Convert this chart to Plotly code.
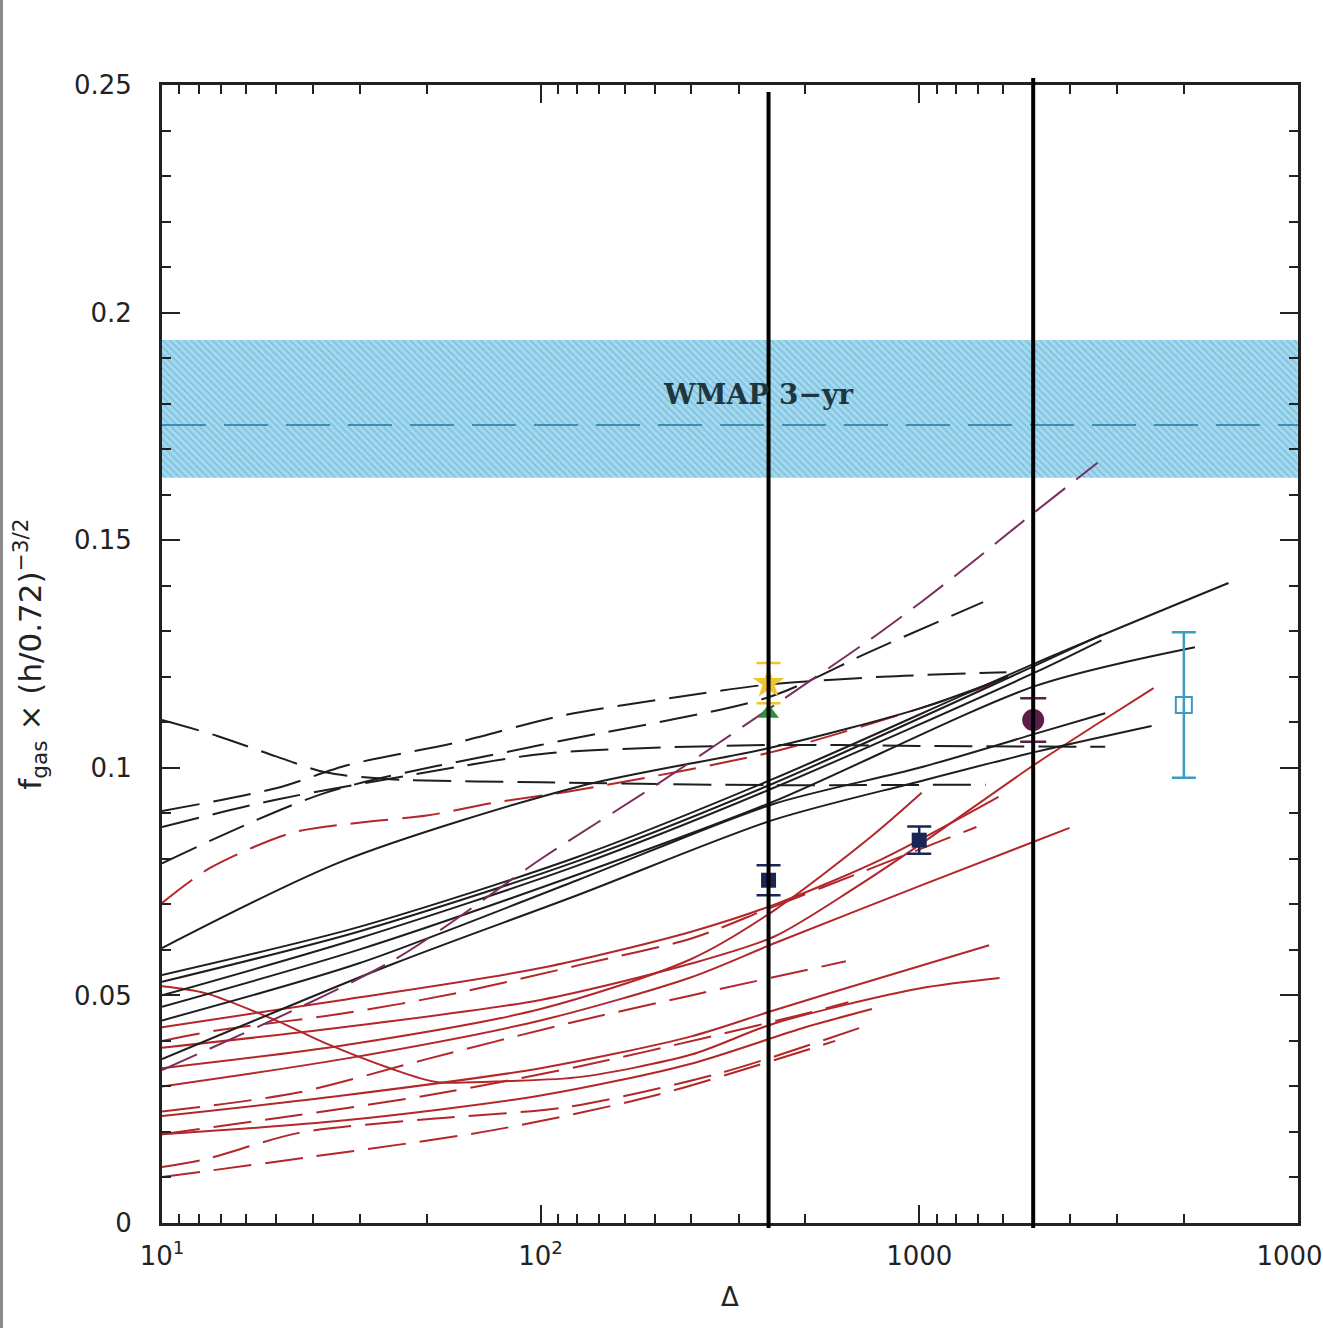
import plotly.graph_objects as go

# ---- WMAP 3-yr cosmic baryon fraction band ----
wmap_delta = [10, 10000]
wmap_low = 0.1637
wmap_mid = 0.1753
wmap_high = 0.194

# ---- black solid model curves ----
bs1_delta = [10, 30, 125, 410, 1000, 1718]
bs1_f = [0.0604, 0.0795, 0.0958, 0.1045, 0.113, 0.120]
bs2_delta = [10, 33, 125, 410, 2030, 6560]
bs2_f = [0.0545, 0.065, 0.0804, 0.0975, 0.123, 0.1406]
bs3_delta = [10, 33, 125, 410, 2030, 3030]
bs3_f = [0.053, 0.064, 0.0795, 0.0965, 0.1225, 0.1292]
bs4_delta = [10, 33, 125, 410, 2030, 3030]
bs4_f = [0.050, 0.0625, 0.0785, 0.0955, 0.121, 0.128]
bs5_delta = [10, 33, 125, 410, 2030, 5350]
bs5_f = [0.0475, 0.060, 0.0765, 0.0925, 0.118, 0.1265]
bs6_delta = [10, 33, 125, 410, 1000, 2030, 3100]
bs6_f = [0.0445, 0.057, 0.0753, 0.092, 0.100, 0.1075, 0.112]
bs7_delta = [10, 41, 125, 410, 1000, 2030, 4110]
bs7_f = [0.036, 0.057, 0.072, 0.0885, 0.097, 0.1035, 0.1092]

# ---- black dashed model curves ----
bd1_delta = [10, 14, 20, 27, 40, 100, 400, 1500]
bd1_f = [0.1105, 0.107, 0.1025, 0.099, 0.0975, 0.0968, 0.0962, 0.0963]
bd2_delta = [10, 20, 31, 61, 113, 250, 400, 800, 1700]
bd2_f = [0.0905, 0.0955, 0.1006, 0.1057, 0.1114, 0.1160, 0.1183, 0.120, 0.121]
bd3_delta = [10, 20, 50, 105, 400, 1000, 3100]
bd3_f = [0.087, 0.093, 0.099, 0.1032, 0.105, 0.1048, 0.1046]
bd4_delta = [10, 27, 100, 400, 750, 1475]
bd4_f = [0.079, 0.0945, 0.105, 0.1155, 0.1257, 0.1364]

# ---- purple dashed model curve ----
pd_delta = [10, 41, 102, 200, 436, 751, 1019, 1355, 1871, 2958]
pd_f = [0.0336, 0.0578, 0.0804, 0.096, 0.115, 0.1285, 0.1366, 0.1446, 0.154, 0.167]

# ---- red dashed model curves ----
rd1_delta = [10, 13.4, 22, 33.5, 50, 75, 125, 410, 1000, 1718]
rd1_f = [0.0703, 0.078, 0.0857, 0.088, 0.0895, 0.0923, 0.0951, 0.1035, 0.113, 0.1195]
rd2_delta = [10, 14.2, 30, 60, 127, 250, 398, 700, 1416]
rd2_f = [0.040, 0.0424, 0.046, 0.0505, 0.0567, 0.0625, 0.069, 0.077, 0.087]
rd3_delta = [10, 22.7, 50, 120, 250, 640]
rd3_f = [0.0245, 0.0286, 0.036, 0.044, 0.050, 0.0575]
rd4_delta = [10, 20, 50, 128, 300, 500, 650]
rd4_f = [0.0195, 0.023, 0.028, 0.0345, 0.0415, 0.046, 0.0485]
rd5_delta = [10, 13, 23, 50, 118, 300, 733]
rd5_f = [0.0123, 0.014, 0.0198, 0.0228, 0.0255, 0.033, 0.0435]
rd6_delta = [10, 24.6, 75, 200, 600]
rd6_f = [0.0101, 0.0145, 0.0204, 0.028, 0.040]

# ---- red solid model curves ----
rs1_delta = [10, 13, 20, 27, 40, 53, 83, 128, 250, 416, 1000, 1630]
rs1_f = [0.052, 0.0505, 0.0445, 0.0395, 0.034, 0.031, 0.0312, 0.0321, 0.037, 0.0439, 0.0515, 0.0538]
rs2_delta = [10, 30, 100, 250, 416, 800, 1530]
rs2_f = [0.0235, 0.028, 0.034, 0.041, 0.0468, 0.054, 0.061]
rs3_delta = [10, 30, 100, 250, 416, 1000, 2495]
rs3_f = [0.030, 0.036, 0.0445, 0.054, 0.0615, 0.074, 0.0868]
rs4_delta = [10, 30, 100, 250, 416, 750, 1015]
rs4_f = [0.034, 0.039, 0.047, 0.058, 0.0688, 0.085, 0.0945]
rs5_delta = [10, 30, 100, 250, 416, 673, 1000, 2000, 3000, 4160]
rs5_f = [0.0385, 0.043, 0.049, 0.057, 0.063, 0.0735, 0.083, 0.1005, 0.110, 0.1175]
rs6_delta = [10, 30, 100, 250, 416, 800, 1620]
rs6_f = [0.043, 0.049, 0.056, 0.064, 0.070, 0.080, 0.0936]
rs7_delta = [10, 30, 100, 250, 500, 750]
rs7_f = [0.0195, 0.0225, 0.028, 0.035, 0.043, 0.047]

# ---- observational points ----
star_delta, star_f, star_err = [400], [0.1186], [0.0044]
tri_delta, tri_f = [400], [0.112]
sq_delta, sq_f, sq_err = [400, 1000], [0.0753, 0.0841], [0.0033, 0.003]
circ_delta, circ_f, circ_err = [2000], [0.1105], [0.0048]
open_delta, open_f, open_err = [5000], [0.1138], [0.016]

# ---- reference overdensities ----
marker_deltas = [400, 2000]

# ---- axis ticks ----
x_tickvals = [10, 100, 1000, 10000]
x_ticktext = ["10<sup>1</sup>", "10<sup>2</sup>", "1000", "10000"]
y_tickvals = [0, 0.05, 0.1, 0.15, 0.2, 0.25]
y_ticktext = ["0", "0.05", "0.1", "0.15", "0.2", "0.25"]

INK = "#1e1e1e"
RED = "#b3262a"
PURPLE = "#7b2d5e"
DASH = "38px,14px"

fig = go.Figure()

# WMAP band with diagonal hatching
fig.add_trace(go.Scatter(
    x=wmap_delta + wmap_delta[::-1],
    y=[wmap_low, wmap_low, wmap_high, wmap_high],
    fill="toself", mode="none",
    fillcolor="#9fd5ec",
    fillpattern=dict(shape="\\", fgcolor="#5aaed2", bgcolor="#a6d9ee",
                     size=5, solidity=0.4),
    hoverinfo="skip", showlegend=False,
))
fig.add_trace(go.Scatter(
    x=wmap_delta, y=[wmap_mid, wmap_mid], mode="lines",
    line=dict(color="#3b8fb2", width=2, dash="44px,18px"),
    hoverinfo="skip", showlegend=False,
))

curves = [
    (rd1_delta, rd1_f, RED, DASH), (rd2_delta, rd2_f, RED, DASH),
    (rd3_delta, rd3_f, RED, DASH), (rd4_delta, rd4_f, RED, DASH),
    (rd5_delta, rd5_f, RED, DASH), (rd6_delta, rd6_f, RED, DASH),
    (rs1_delta, rs1_f, RED, "solid"), (rs2_delta, rs2_f, RED, "solid"),
    (rs3_delta, rs3_f, RED, "solid"), (rs4_delta, rs4_f, RED, "solid"),
    (rs5_delta, rs5_f, RED, "solid"), (rs6_delta, rs6_f, RED, "solid"),
    (rs7_delta, rs7_f, RED, "solid"),
    (bs1_delta, bs1_f, INK, "solid"), (bs2_delta, bs2_f, INK, "solid"),
    (bs3_delta, bs3_f, INK, "solid"), (bs4_delta, bs4_f, INK, "solid"),
    (bs5_delta, bs5_f, INK, "solid"), (bs6_delta, bs6_f, INK, "solid"),
    (bs7_delta, bs7_f, INK, "solid"),
    (bd1_delta, bd1_f, INK, DASH), (bd2_delta, bd2_f, INK, DASH),
    (bd3_delta, bd3_f, INK, DASH), (bd4_delta, bd4_f, INK, DASH),
    (pd_delta, pd_f, PURPLE, DASH),
]
for dx, fy, col, dash in curves:
    fig.add_trace(go.Scatter(
        x=dx, y=fy, mode="lines",
        line=dict(color=col, width=2, dash=dash, shape="spline", smoothing=0.8),
        hoverinfo="skip", showlegend=False,
    ))

# observational measurements
fig.add_trace(go.Scatter(
    x=star_delta, y=star_f, mode="markers",
    marker=dict(symbol="star", size=24, color="#f0c430"),
    error_y=dict(type="data", array=star_err, color="#f0c430", thickness=2.5, width=12),
    showlegend=False,
))
fig.add_trace(go.Scatter(
    x=tri_delta, y=tri_f, mode="markers",
    marker=dict(symbol="triangle-up", size=18, color="#2f8f3c"),
    showlegend=False,
))
fig.add_trace(go.Scatter(
    x=sq_delta, y=sq_f, mode="markers",
    marker=dict(symbol="square", size=15, color="#1b2556"),
    error_y=dict(type="data", array=sq_err, color="#1b2556", thickness=2.5, width=12),
    showlegend=False,
))
fig.add_trace(go.Scatter(
    x=circ_delta, y=circ_f, mode="markers",
    marker=dict(symbol="circle", size=22, color="#5a1e48"),
    error_y=dict(type="data", array=circ_err, color="#5a1e48", thickness=2.5, width=13),
    showlegend=False,
))
fig.add_trace(go.Scatter(
    x=open_delta, y=open_f, mode="markers",
    marker=dict(symbol="square-open", size=16, color="#3d9bc0", line=dict(width=2)),
    error_y=dict(type="data", array=open_err, color="#3d9bc0", thickness=2.5, width=12),
    showlegend=False,
))

fig.add_annotation(
    x=0.525, y=0.182, xref="paper", yref="y", text="<b>WMAP 3\u2212yr</b>",
    showarrow=False, font=dict(family="DejaVu Serif", size=28, color="#1e3640"),
)

# vertical reference lines (extend slightly past the frame)
plot_h = 1138.0
tops = [(1223 - 92) / plot_h, (1223 - 78) / plot_h]
for d, top in zip(marker_deltas, tops):
    fig.add_shape(type="line", xref="x", yref="paper", x0=d, x1=d,
                  y0=-5 / plot_h, y1=top, line=dict(color="black", width=4),
                  layer="above")

# thin grey border along the left edge of the page
fig.add_shape(type="line", xref="paper", yref="paper",
              x0=(1.5 - 162) / 1136, x1=(1.5 - 162) / 1136,
              y0=-105 / plot_h, y1=1223 / plot_h,
              line=dict(color="#8a8a8a", width=3))

minor_x = [10 ** (n + 1) / k for n in (1, 2, 3) for k in range(2, 10)]
minor_y = [i / 100 for i in range(1, 25) if i % 5]

tick_font = dict(family="DejaVu Sans", size=26, color="#222")
fig.update_layout(
    width=1323, height=1328,
    margin=dict(l=162, r=25, t=85, b=105),
    paper_bgcolor="white", plot_bgcolor="white",
    showlegend=False,
    xaxis=dict(
        type="log", range=[1, 4.0005], automargin=False,
        tickmode="array", tickvals=x_tickvals, ticktext=x_ticktext,
        ticks="inside", ticklen=18, tickwidth=2, tickcolor="#222",
        showline=True, linewidth=3, linecolor="#222", mirror="allticks",
        showgrid=False, zeroline=False, tickfont=tick_font,
        ticklabelstandoff=8, ticklabeloverflow="allow",
        minor=dict(tickmode="array", tickvals=minor_x, ticks="inside",
                   ticklen=9, tickwidth=1.5, tickcolor="#222", showgrid=False),
        title=dict(text="\u0394", font=dict(family="DejaVu Sans", size=26, color="#222"),
                   standoff=18),
    ),
    yaxis=dict(
        range=[0, 0.25], automargin=False,
        tickmode="array", tickvals=y_tickvals, ticktext=y_ticktext,
        ticks="inside", ticklen=18, tickwidth=2, tickcolor="#222",
        showline=True, linewidth=3, linecolor="#222", mirror="allticks",
        showgrid=False, zeroline=False, tickfont=tick_font,
        ticklabelstandoff=22,
        minor=dict(tickmode="array", tickvals=minor_y, ticks="inside",
                   ticklen=9, tickwidth=1.5, tickcolor="#222", showgrid=False),
        title=dict(text="f<sub>gas</sub> \u00d7 (h/0.72)<sup>\u22123/2</sup>",
                   font=dict(family="DejaVu Sans", size=31, color="#222"),
                   standoff=24),
    ),
)

fig.write_html("out.html")
